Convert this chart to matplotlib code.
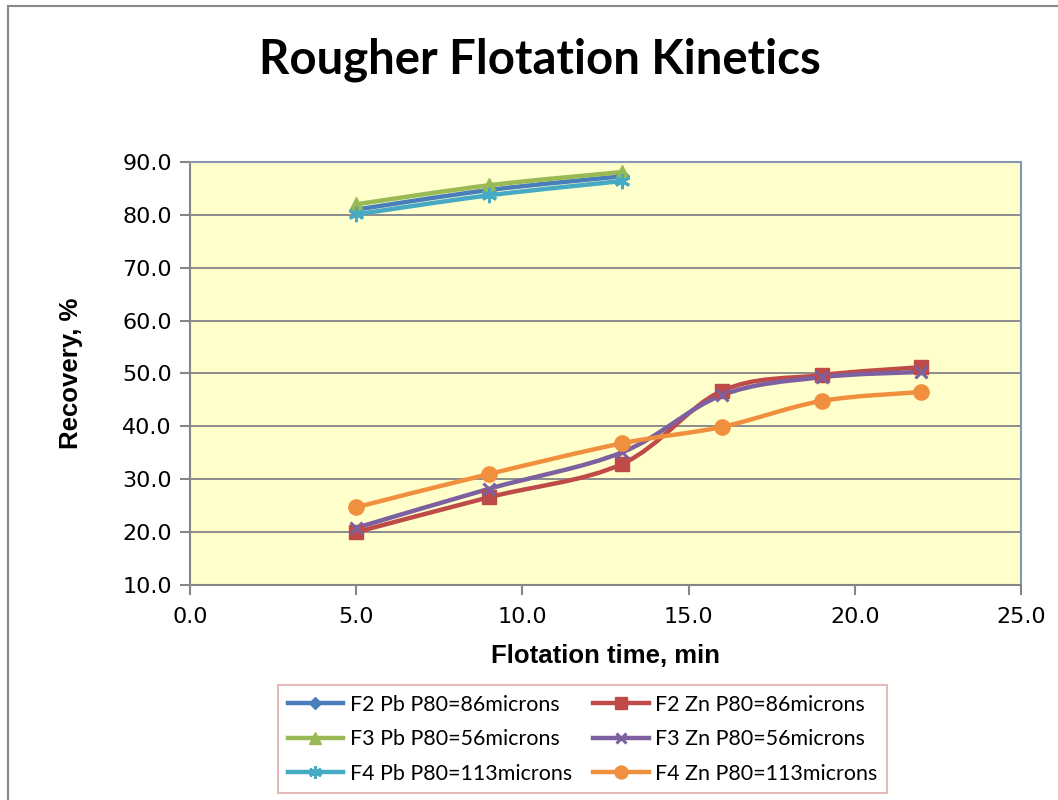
import numpy as np
import matplotlib
matplotlib.use("Agg")
import matplotlib.pyplot as plt
from matplotlib.path import Path
from matplotlib.patches import PathPatch, Rectangle
from matplotlib.lines import Line2D

# data
time_pb = [5, 9, 13]
time_zn = [5, 9, 13, 16, 19, 22]
f2_pb = [81.0, 84.7, 87.3]
f3_pb = [82.0, 85.6, 88.1]
f4_pb = [80.1, 83.7, 86.4]
f2_zn = [20.0, 26.6, 32.9, 46.7, 49.7, 51.2]
f3_zn = [20.8, 28.2, 35.1, 45.9, 49.3, 50.3]
f4_zn = [24.7, 31.0, 36.8, 39.9, 44.8, 46.5]

labels = ["F2 Pb P80=86microns", "F2 Zn P80=86microns",
          "F3 Pb P80=56microns", "F3 Zn P80=56microns",
          "F4 Pb P80=113microns", "F4 Zn P80=113microns"]

series = [
    (time_pb, f2_pb, "#4A7EBB", "D", 7),
    (time_zn, f2_zn, "#BE4B48", "s", 10),
    (time_pb, f3_pb, "#98B954", "^", 10),
    (time_zn, f3_zn, "#7D60A0", "x", 9),
    (time_pb, f4_pb, "#46AAC5", (6, 2, 0), 11),
    (time_zn, f4_zn, "#F0903E", "o", 11),
]


def smooth_path(x, y):
    # excel-like smoothed line: cubic bezier segments through the points
    pts = np.column_stack([x, y]).astype(float)
    n = len(pts)
    verts = [pts[0]]
    codes = [Path.MOVETO]
    for i in range(n - 1):
        p0 = pts[i - 1] if i > 0 else pts[i]
        p1 = pts[i]
        p2 = pts[i + 1]
        p3 = pts[i + 2] if i + 2 < n else pts[i + 1]
        c1 = p1 + (p2 - p0) / 6.0
        c2 = p2 - (p3 - p1) / 6.0
        verts += [c1, c2, p2]
        codes += [Path.CURVE4] * 3
    return Path(verts, codes)


plt.rcParams['font.family'] = ['DejaVu Sans']

fig = plt.figure(figsize=(10.58, 8), dpi=100)
ax = fig.add_axes([190 / 1058, 1 - 585 / 800, (1021 - 190) / 1058, (585 - 162) / 800])
ax.set_facecolor("#FFFFCC")

handles = []
for (x, y, col, mk, ms), lab in zip(series, labels):
    ax.add_patch(PathPatch(smooth_path(x, y), facecolor="none", edgecolor=col,
                           lw=3.2, capstyle="round", joinstyle="round", zorder=3))
    mew = 2.2 if mk in ("x", (6, 2, 0)) else 1
    ax.plot(x, y, linestyle="none", marker=mk, color=col, markersize=ms,
            markeredgewidth=mew, zorder=4)
    handles.append(Line2D([], [], color=col, lw=3.2, marker=mk,
                          markersize=ms * 0.85, markeredgewidth=mew))

ax.set_xlim(0, 25)
ax.set_ylim(10, 90)
ax.set_xticks(np.arange(0, 25.1, 5))
ax.set_yticks(np.arange(10, 90.1, 10))
ax.xaxis.set_major_formatter(matplotlib.ticker.FormatStrFormatter("%.1f"))
ax.yaxis.set_major_formatter(matplotlib.ticker.FormatStrFormatter("%.1f"))
ax.tick_params(axis="both", labelsize=16, color="#868686", length=7, width=1.5, pad=6)
ax.tick_params(axis="x", pad=9)
ax.yaxis.grid(True, color="#8C8C8C", lw=1.4)
ax.set_axisbelow(True)
for s in ("left", "bottom"):
    ax.spines[s].set_color("#868686")
    ax.spines[s].set_linewidth(1.5)
for s in ("top", "right"):
    ax.spines[s].set_color("#8497B5")
    ax.spines[s].set_linewidth(1.5)

ax.set_xlabel("Flotation time, min", fontsize=18.5, fontweight="bold",
              family="Liberation Sans", labelpad=12)
ax.set_ylabel("Recovery, %", fontsize=18.5, fontweight="bold",
              family="Liberation Sans", labelpad=28)
fig.text(540 / 1058, 1 - 60 / 800, "Rougher Flotation Kinetics", fontsize=34,
         fontweight="bold", family="Lato", ha="center", va="center")

order = [0, 2, 4, 1, 3, 5]
leg = fig.legend([handles[i] for i in order], [labels[i] for i in order],
                 ncol=2, loc="upper left", bbox_to_anchor=(278 / 1058, 1 - 685 / 800),
                 frameon=True, fancybox=False, prop={"family": "Lato", "size": 15.4},
                 handlelength=2.6, columnspacing=1.0, labelspacing=0.68,
                 borderaxespad=0, borderpad=0.45, handletextpad=0.3)
leg.get_frame().set_edgecolor("#E0A8A8")
leg.get_frame().set_linewidth(1.5)

fig.patches.append(Rectangle((8 / 1058, -0.05), 1.2, 1.05 - 6 / 800,
                             transform=fig.transFigure, fill=False,
                             edgecolor="#888888", lw=1.5))

plt.savefig("out.png", dpi=100)
